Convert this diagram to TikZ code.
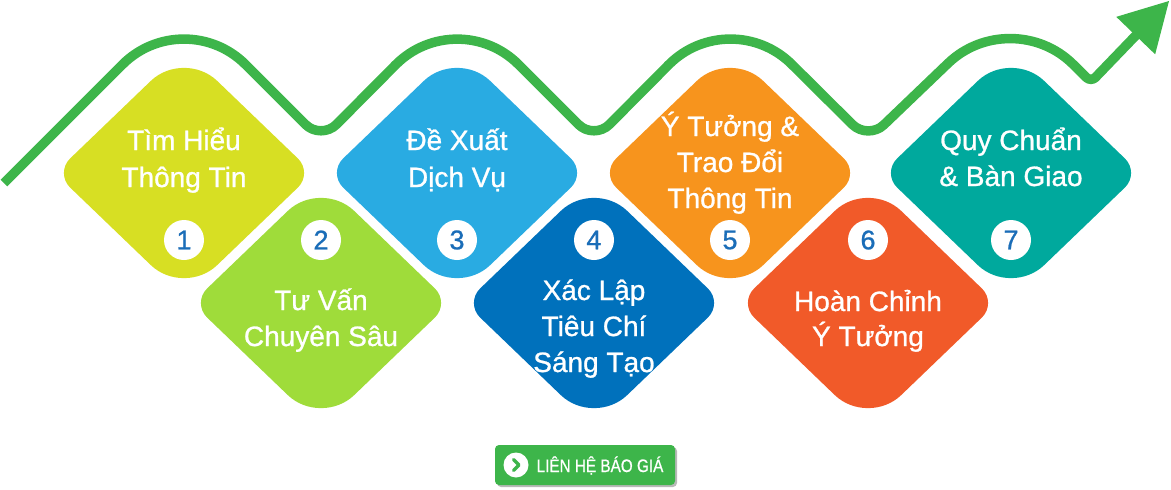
\documentclass[tikz,border=0pt]{standalone}
\usepackage{fontspec}
\setmainfont{Liberation Sans}
\newfontfamily\medfont[FakeBold=0.9]{Liberation Sans}
\usetikzlibrary{calc}
\definecolor{cA}{HTML}{D7DF23}
\definecolor{cB}{HTML}{9FDC3A}
\definecolor{cC}{HTML}{29ABE2}
\definecolor{cD}{HTML}{0071BC}
\definecolor{cE}{HTML}{F7941D}
\definecolor{cF}{HTML}{F15A29}
\definecolor{cG}{HTML}{00A99D}
\definecolor{wavegreen}{HTML}{3DB54A}
\definecolor{numblue}{HTML}{1A6DB8}
% rounded diamond: #1 name, #2 cx, #3 cy, #4 colour
\newcommand\rdia[4]{%
  \coordinate (#1) at (#2,#3);
  \coordinate (#1L) at (#2-129,#3);
  \coordinate (#1T) at (#2,#3-124);
  \coordinate (#1R) at (#2+129,#3);
  \coordinate (#1B) at (#2,#3+124);
  \fill[#4] ($(#1L)!21pt!(#1T)$)
    -- ($(#1T)!46pt!(#1L)$) .. controls ($(#1T)!21pt!(#1L)$) and ($(#1T)!21pt!(#1R)$) .. ($(#1T)!46pt!(#1R)$)
    -- ($(#1R)!21pt!(#1T)$) .. controls ($(#1R)!9.5pt!(#1T)$) and ($(#1R)!9.5pt!(#1B)$) .. ($(#1R)!21pt!(#1B)$)
    -- ($(#1B)!46pt!(#1R)$) .. controls ($(#1B)!21pt!(#1R)$) and ($(#1B)!21pt!(#1L)$) .. ($(#1B)!46pt!(#1L)$)
    -- ($(#1L)!21pt!(#1B)$) .. controls ($(#1L)!9.5pt!(#1B)$) and ($(#1L)!9.5pt!(#1T)$) .. ($(#1L)!21pt!(#1T)$) -- cycle;
}
\begin{document}
\begin{tikzpicture}[x=1pt,y=-1pt,
  lbl/.style={text=white, font=\medfont\fontsize{28}{30}\selectfont, anchor=base, inner sep=0pt},
  numc/.style={circle, fill=white, minimum size=40pt, inner sep=0pt, text=numblue, font=\medfont\fontsize{27}{27}\selectfont},
  wave/.style={draw=wavegreen, line width=9.5pt, line cap=butt, line join=round},
  btnbox/.style={fill=wavegreen, rounded corners=4pt, minimum width=180pt, minimum height=40pt, inner sep=0pt},
  btntext/.style={text=white, font=\medfont\fontsize{18}{18}\selectfont, inner sep=0pt, xscale=0.85}]
\useasboundingbox (0,0) rectangle (1171,490);

% ---------- wave ----------
\coordinate (S) at (4,183);
\coordinate (P1) at (184,3);
\coordinate (T1) at (321,140);
\coordinate (P2) at (457,3);
\coordinate (T2) at (594,140);
\coordinate (P3) at (730,3);
\coordinate (T3) at (868,140);
\coordinate (P4) at (1011,3);
\coordinate (L) at (1091,82);
\coordinate (Tip) at (1169,1);
\coordinate (Hb) at ($(Tip)!48pt!(L)$);
\coordinate (Hs) at ($(Tip)!44pt!(L)$);

\draw[wave] (S)
  -- ($(P1)!87pt!(S)$) .. controls ($(P1)!39pt!(S)$) and ($(P1)!39pt!(T1)$) .. ($(P1)!87pt!(T1)$)
  -- ($(T1)!22pt!(P1)$) .. controls ($(T1)!10pt!(P1)$) and ($(T1)!10pt!(P2)$) .. ($(T1)!22pt!(P2)$)
  -- ($(P2)!87pt!(T1)$) .. controls ($(P2)!39pt!(T1)$) and ($(P2)!39pt!(T2)$) .. ($(P2)!87pt!(T2)$)
  -- ($(T2)!22pt!(P2)$) .. controls ($(T2)!10pt!(P2)$) and ($(T2)!10pt!(P3)$) .. ($(T2)!22pt!(P3)$)
  -- ($(P3)!87pt!(T2)$) .. controls ($(P3)!39pt!(T2)$) and ($(P3)!39pt!(T3)$) .. ($(P3)!87pt!(T3)$)
  -- ($(T3)!22pt!(P3)$) .. controls ($(T3)!10pt!(P3)$) and ($(T3)!10pt!(P4)$) .. ($(T3)!22pt!(P4)$)
  -- ($(P4)!87pt!(T3)$) .. controls ($(P4)!39pt!(T3)$) and ($(P4)!39pt!(L)$) .. ($(P4)!87pt!(L)$)
  -- ($(L)!6pt!(P4)$) .. controls ($(L)!3pt!(P4)$) and ($(L)!3pt!(Tip)$) .. ($(L)!6pt!(Tip)$)
  -- (Hs);
\fill[wavegreen] (Tip) -- ($(Hb)!27pt!90:(Tip)$) -- ($(Hb)!27pt!-90:(Tip)$) -- cycle;

% ---------- diamonds ----------
\rdia{D1}{184}{173}{cA}
\rdia{D2}{321}{303}{cB}
\rdia{D3}{457}{173}{cC}
\rdia{D4}{594}{303}{cD}
\rdia{D5}{730}{173}{cE}
\rdia{D6}{868}{303}{cF}
\rdia{D7}{1011}{173}{cG}

% ---------- labels ----------
\node[lbl] (t1a) at (184,150) {Tìm Hiểu};
\node[lbl] (t1b) at (184,187) {Thông Tin};
\node[lbl] (t2a) at (321,310) {Tư Vấn};
\node[lbl] (t2b) at (321,346) {Chuyên Sâu};
\node[lbl] (t3a) at (457,150) {Đề Xuất};
\node[lbl] (t3b) at (457,187) {Dịch Vụ};
\node[lbl] (t4a) at (594,300) {Xác Lập};
\node[lbl] (t4b) at (594,336) {Tiêu Chí};
\node[lbl] (t4c) at (594,372) {Sáng Tạo};
\node[lbl] (t5a) at (730,136) {Ý Tưởng \&};
\node[lbl] (t5b) at (730,172) {Trao Đổi};
\node[lbl] (t5c) at (730,208) {Thông Tin};
\node[lbl] (t6a) at (868,311) {Hoàn Chỉnh};
\node[lbl] (t6b) at (868,346) {Ý Tưởng};
\node[lbl] (t7a) at (1011,150) {Quy Chuẩn};
\node[lbl] (t7b) at (1011,186) {\& Bàn Giao};

% ---------- numbers ----------
\node[numc] (n1) at (184,240) {1};
\node[numc] (n2) at (321,240) {2};
\node[numc] (n3) at (457,240) {3};
\node[numc] (n4) at (594,240) {4};
\node[numc] (n5) at (730,240) {5};
\node[numc] (n6) at (868,240) {6};
\node[numc] (n7) at (1011,240) {7};

% ---------- button ----------
\fill[black!28, rounded corners=4pt] (497,447) rectangle (677,487);
\node[btnbox] (btn) at (585,465) {};
\node[circle, fill=white, minimum size=25pt, inner sep=0pt] (ico) at (516,465) {};
\draw[wavegreen, line width=3.2pt, line cap=round, line join=round]
  ($(ico)+(-2.5,-5.5)$) -- ($(ico)+(3,0)$) -- ($(ico)+(-2.5,5.5)$);
\node[btntext] (btxt) at (600,465.5) {LIÊN HỆ BÁO GIÁ};
\end{tikzpicture}
\end{document}
